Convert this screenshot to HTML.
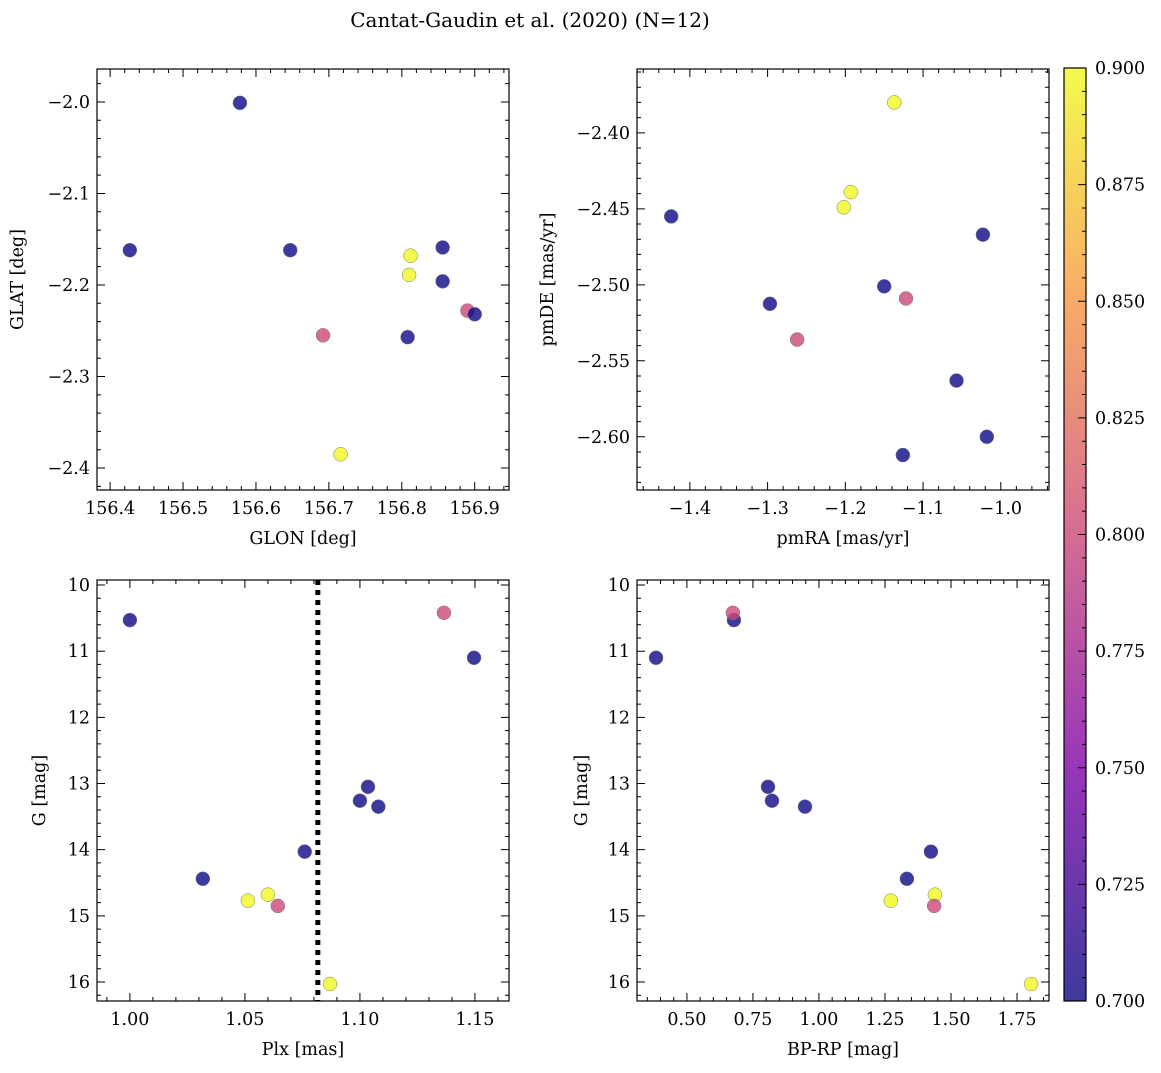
<!DOCTYPE html>
<html><head><meta charset="utf-8"><style>
body{margin:0;background:#fff}
svg text{font-family:"DejaVu Serif","Liberation Serif",serif;fill:#000}
</style></head><body>
<svg id="fig" width="1161" height="1068" viewBox="0 0 1161 1068" xmlns="http://www.w3.org/2000/svg">
<defs><linearGradient id="plasma" x1="0" y1="1" x2="0" y2="0">
<stop offset="0" stop-color="#0d0887"/><stop offset="0.25" stop-color="#7e03a8"/><stop offset="0.5" stop-color="#cc4778"/><stop offset="0.75" stop-color="#f89540"/><stop offset="1" stop-color="#f0f921"/></linearGradient></defs>
<text x="530" y="27" text-anchor="middle" font-size="20">Cantat-Gaudin et al. (2020) (N=12)</text>
</svg>
<script>
// data
const glon=[156.427,156.578,156.647,156.812,156.810,156.856,156.856,156.692,156.808,156.890,156.900,156.716];
const glat=[-2.162,-2.001,-2.162,-2.168,-2.189,-2.159,-2.196,-2.255,-2.257,-2.228,-2.232,-2.385];
const c1=[0.7,0.7,0.7,0.9,0.9,0.7,0.7,0.8,0.7,0.8,0.7,0.9];
const pmra=[-1.424,-1.137,-1.193,-1.202,-1.297,-1.150,-1.122,-1.262,-1.023,-1.057,-1.018,-1.126];
const pmde=[-2.455,-2.380,-2.439,-2.449,-2.5125,-2.501,-2.509,-2.536,-2.467,-2.563,-2.600,-2.612];
const c2=[0.7,0.9,0.9,0.9,0.7,0.7,0.8,0.8,0.7,0.7,0.7,0.7];
const plx=[1.000,1.1365,1.1496,1.1035,1.100,1.108,1.076,1.0317,1.060,1.0513,1.0643,1.087];
const gmag3=[10.53,10.42,11.10,13.05,13.26,13.35,14.03,14.44,14.68,14.77,14.85,16.03];
const c3=[0.7,0.8,0.7,0.7,0.7,0.7,0.7,0.7,0.9,0.9,0.8,0.9];
const bprp=[0.383,0.678,0.674,0.807,0.822,0.947,1.424,1.333,1.439,1.272,1.436,1.803];
const gmag4=[11.10,10.53,10.42,13.05,13.26,13.35,14.03,14.44,14.68,14.77,14.85,16.03];
const c4=[0.7,0.7,0.8,0.7,0.7,0.7,0.7,0.7,0.9,0.9,0.8,0.9];
const plxLine=1.0817;
const cbTicks=[0.700,0.725,0.750,0.775,0.800,0.825,0.850,0.875,0.900];

const svg=document.getElementById('fig');const NS='http://www.w3.org/2000/svg';
function el(t,a,p){const e=document.createElementNS(NS,t);for(const k in a)e.setAttribute(k,a[k]);(p||svg).appendChild(e);return e;}
const stops=[[0,[13,8,135]],[0.25,[126,3,168]],[0.5,[204,71,120]],[0.75,[248,149,64]],[1,[240,249,33]]];
function cmap(v){let t=(v-0.7)/0.2;t=Math.max(0,Math.min(1,t));for(let i=0;i<4;i++){const a=stops[i],b=stops[i+1];if(t<=b[0]){const f=(t-a[0])/(b[0]-a[0]);return 'rgb('+a[1].map((x,j)=>Math.round(x+(b[1][j]-x)*f)).join(',')+')';}}return 'rgb(240,249,33)';}
function ticks(a,b,s){const r=[];for(let v=Math.ceil(a/s-1e-9)*s;v<=b+1e-9;v+=s)r.push(+v.toFixed(6));return r;}
function panel(o){
 const g=el('g',{});
 const X=v=>o.x0+(v-o.xr[0])/(o.xr[1]-o.xr[0])*(o.x1-o.x0);
 const Y=v=>o.inv? o.y0+(v-o.yr[0])/(o.yr[1]-o.yr[0])*(o.y1-o.y0) : o.y1-(v-o.yr[0])/(o.yr[1]-o.yr[0])*(o.y1-o.y0);
 const lo=Math.min(o.yr[0],o.yr[1]),hi=Math.max(o.yr[0],o.yr[1]);
 if(o.vline!==undefined){const l=el('line',{x1:X(o.vline),x2:X(o.vline),y1:o.y0,y2:o.y1,stroke:'#000','stroke-width':5,'stroke-dasharray':'5,5'},g);}
 for(let i=0;i<o.xs.length;i++){const c=el('circle',{cx:X(o.xs[i]),cy:Y(o.ys[i]),r:7,fill:cmap(o.cs[i]),'fill-opacity':0.8,stroke:'#777','stroke-width':0.5},g);}
 const f=el('rect',{x:o.x0,y:o.y0,width:o.x1-o.x0,height:o.y1-o.y0,fill:'none',stroke:'#000','stroke-width':1.2},g);
 
 let d='';
 ticks(o.xr[0],o.xr[1],o.xminor).forEach(v=>{const x=X(v);d+=`M${x},${o.y1}v-4M${x},${o.y0}v4`;});
 ticks(lo,hi,o.yminor).forEach(v=>{const y=Y(v);d+=`M${o.x0},${y}h4M${o.x1},${y}h-4`;});
 ticks(o.xr[0],o.xr[1],o.xmaj).forEach(v=>{const x=X(v);d+=`M${x},${o.y1}v-8M${x},${o.y0}v8`;
  const t=el('text',{x:x,y:o.y1+24,'text-anchor':'middle','font-size':17.5},g);t.textContent=o.xf(v);});
 ticks(lo,hi,o.ymaj).forEach(v=>{const y=Y(v);d+=`M${o.x0},${y}h8M${o.x1},${y}h-8`;
  const t=el('text',{x:o.x0-7,y:y+6,'text-anchor':'end','font-size':17.5},g);t.textContent=o.yf(v);});
 el('path',{d:d,stroke:'#000','stroke-width':1},g);
 const xl=el('text',{x:(o.x0+o.x1)/2,y:o.y1+54,'text-anchor':'middle','font-size':17.5},g);xl.textContent=o.xl;
 const yc=(o.y0+o.y1)/2;const yl=el('text',{x:o.ylx,y:yc,'text-anchor':'middle','font-size':17.5,transform:`rotate(-90 ${o.ylx} ${yc})`},g);yl.textContent=o.yl;
}
panel({name:'glon-glat-panel',x0:97,x1:509,y0:69,y1:490,xr:[156.382,156.947],yr:[-2.424,-1.964],xs:glon,ys:glat,cs:c1,xmaj:0.1,xminor:0.02,ymaj:0.1,yminor:0.02,xf:v=>v.toFixed(1),yf:v=>'\u2212'+Math.abs(v).toFixed(1),xl:'GLON [deg]',yl:'GLAT [deg]',ylx:23});
panel({name:'pm-panel',x0:637,x1:1049,y0:69,y1:490,xr:[-1.468,-0.938],yr:[-2.635,-2.358],xs:pmra,ys:pmde,cs:c2,xmaj:0.1,xminor:0.02,ymaj:0.05,yminor:0.01,xf:v=>'\u2212'+Math.abs(v).toFixed(1),yf:v=>'\u2212'+Math.abs(v).toFixed(2),xl:'pmRA [mas/yr]',yl:'pmDE [mas/yr]',ylx:553});
panel({name:'plx-g-panel',x0:97,x1:509,y0:580,y1:1001,xr:[0.9857,1.1648],yr:[9.924,16.287],inv:true,xs:plx,ys:gmag3,cs:c3,xmaj:0.05,xminor:0.01,ymaj:1,yminor:0.2,xf:v=>v.toFixed(2),yf:v=>v.toFixed(0),xl:'Plx [mas]',yl:'G [mag]',ylx:45,vline:plxLine});
panel({name:'cmd-panel',x0:637,x1:1049,y0:580,y1:1001,xr:[0.311,1.871],yr:[9.924,16.287],inv:true,xs:bprp,ys:gmag4,cs:c4,xmaj:0.25,xminor:0.05,ymaj:1,yminor:0.2,xf:v=>v.toFixed(2),yf:v=>v.toFixed(0),xl:'BP-RP [mag]',yl:'G [mag]',ylx:587});
// colorbar
const cb=el('g',{});
const cy0=68,cy1=1001,cx0=1064,cx1=1086;
el('rect',{x:cx0,y:cy0,width:cx1-cx0,height:cy1-cy0,fill:'url(#plasma)','fill-opacity':0.8},cb);
el('rect',{x:cx0,y:cy0,width:cx1-cx0,height:cy1-cy0,fill:'none',stroke:'#000','stroke-width':1.2},cb);
const CY=v=>cy1-(v-0.7)/0.2*(cy1-cy0);let cd='';
ticks(0.7,0.9,0.005).forEach(v=>{cd+=`M${cx1},${CY(v)}h-4`;});
cbTicks.forEach(v=>{cd+=`M${cx1},${CY(v)}h-8`;const t=el('text',{x:cx1+9,y:CY(v)+6,'font-size':17.5},cb);t.textContent=v.toFixed(3);});
el('path',{d:cd,stroke:'#000','stroke-width':1},cb);
</script>
</body></html>
